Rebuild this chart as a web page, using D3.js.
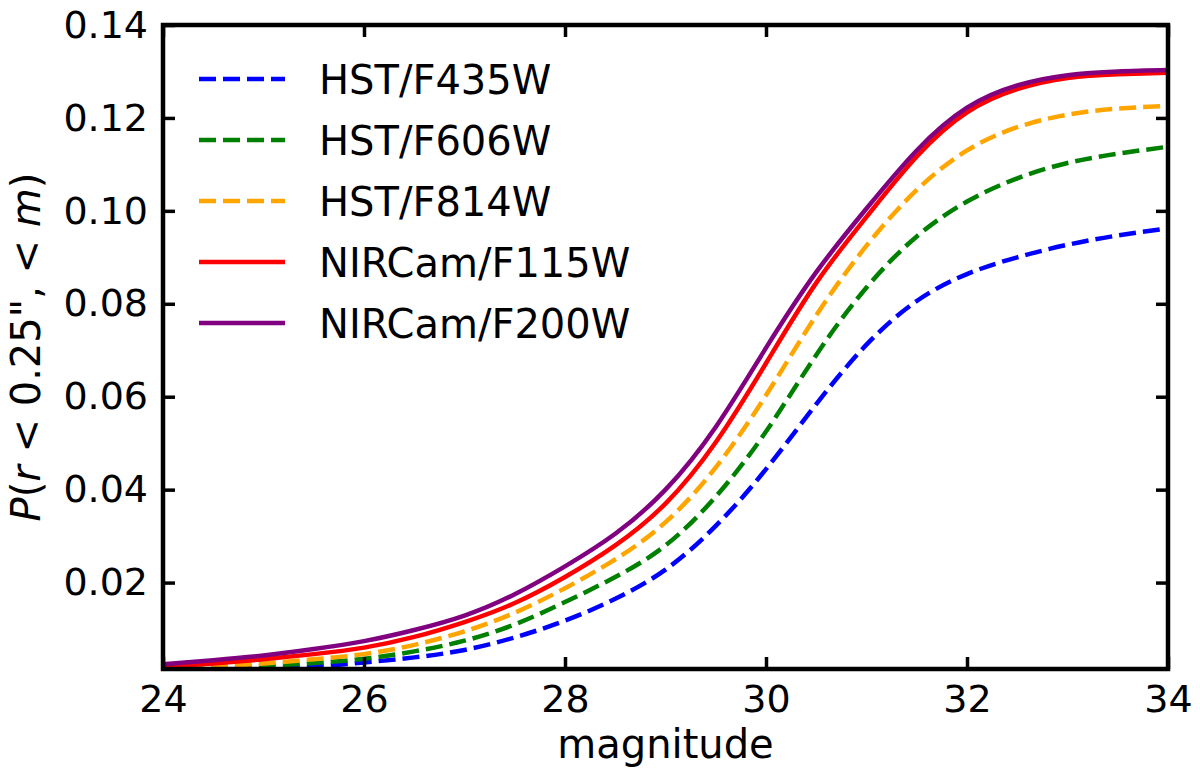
<!DOCTYPE html>
<html>
<head>
<meta charset="utf-8">
<script src="https://cdn.jsdelivr.net/npm/d3@7"></script>
<style>
  body { margin: 0; background: #fff; }
  svg { display: block; font-family: "DejaVu Sans", sans-serif; }
</style>
</head>
<body>
<svg id="chart" width="1200" height="777"></svg>
<script>
// magnitude grid
const magnitudes = [24, 24.5, 25, 25.5, 26, 26.5, 27, 27.5, 28, 28.5, 29, 29.5, 30, 30.5, 31, 31.5, 32, 32.5, 33, 33.5, 34];

const hstF435W = [0.0006, 0.0009, 0.0013, 0.0019, 0.0028, 0.0039, 0.0055, 0.0082, 0.0118, 0.0165, 0.0228, 0.0322, 0.0444, 0.0584, 0.0712, 0.0806, 0.0864, 0.0900, 0.0927, 0.0947, 0.0962];
const hstF606W = [0.0009, 0.0014, 0.0020, 0.0027, 0.0036, 0.0052, 0.0075, 0.0110, 0.0158, 0.0212, 0.0280, 0.0385, 0.0525, 0.0690, 0.0835, 0.0945, 0.1020, 0.1070, 0.1103, 0.1123, 0.1138];
const hstF814W = [0.0013, 0.0019, 0.0026, 0.0035, 0.0046, 0.0066, 0.0095, 0.0135, 0.0188, 0.0250, 0.0330, 0.0448, 0.0603, 0.0775, 0.0925, 0.1045, 0.1130, 0.1180, 0.1207, 0.1220, 0.1226];
const nircamF115W = [0.0019, 0.0026, 0.0035, 0.0046, 0.0060, 0.0083, 0.0115, 0.0156, 0.0212, 0.0280, 0.0370, 0.0502, 0.0672, 0.0845, 0.0987, 0.1117, 0.1212, 0.1262, 0.1286, 0.1294, 0.1297];
const nircamF200W = [0.0024, 0.0033, 0.0043, 0.0057, 0.0074, 0.0098, 0.0129, 0.0175, 0.0235, 0.0305, 0.0400, 0.0535, 0.0705, 0.0868, 0.1005, 0.1130, 0.1222, 0.1270, 0.1292, 0.1300, 0.1303];

const seriesNames = ["HST/F435W", "HST/F606W", "HST/F814W", "NIRCam/F115W", "NIRCam/F200W"];
const seriesValues = [hstF435W, hstF606W, hstF814W, nircamF115W, nircamF200W];
const seriesColors = ["blue", "green", "orange", "red", "purple"];
const seriesDashed = [true, true, true, false, false];

const xTicks = [24, 26, 28, 30, 32, 34];
const yTicks = [0.02, 0.04, 0.06, 0.08, 0.10, 0.12, 0.14];

const margin = {top: 25, right: 32, bottom: 108, left: 163};
const width = 1200, height = 777;
const boundedWidth = width - margin.left - margin.right;
const boundedHeight = height - margin.top - margin.bottom;

const svg = d3.select("#chart");
const g = svg.append("g")
    .attr("transform", `translate(${margin.left}, ${margin.top})`);

const xScale = d3.scaleLinear().domain([24, 34]).range([0, boundedWidth]);
const yScale = d3.scaleLinear().domain([0.0014, 0.14]).range([boundedHeight, 0]);

svg.append("defs").append("clipPath")
    .attr("id", "plot-clip")
    .append("rect")
    .attr("width", boundedWidth)
    .attr("height", boundedHeight);

const line = d3.line()
    .x(d => xScale(d.m))
    .y(d => yScale(d.v))
    .curve(d3.curveNatural);

// curves
const curves = g.append("g").attr("clip-path", "url(#plot-clip)");
seriesNames.forEach((name, i) => {
    const pts = magnitudes.map((m, j) => ({m: m, v: seriesValues[i][j]}));
    curves.append("path")
        .datum(pts)
        .attr("d", line)
        .attr("fill", "none")
        .attr("stroke", seriesColors[i])
        .attr("stroke-width", 4.5)
        .attr("stroke-dasharray", seriesDashed[i] ? "17,7" : null);
});

// axes, ticks inward on all four sides
const tickLen = 12;
function styleAxis(sel) {
    sel.select(".domain").remove();
    sel.selectAll(".tick line").attr("stroke", "black").attr("stroke-width", 3.5);
    sel.selectAll(".tick text")
        .attr("fill", "black")
        .style("font-family", "DejaVu Sans")
        .style("font-size", "38px");
}

g.append("g")
    .attr("transform", `translate(0, ${boundedHeight})`)
    .call(d3.axisBottom(xScale).tickValues(xTicks).tickSize(-tickLen).tickPadding(16).tickFormat(d3.format("d")))
    .call(styleAxis);

g.append("g")
    .call(d3.axisTop(xScale).tickValues(xTicks).tickSize(-tickLen).tickFormat(""))
    .call(styleAxis);

g.append("g")
    .call(d3.axisLeft(yScale).tickValues(yTicks).tickSize(-tickLen).tickPadding(15).tickFormat(d3.format(".2f")))
    .call(styleAxis);

g.append("g")
    .attr("transform", `translate(${boundedWidth}, 0)`)
    .call(d3.axisRight(yScale).tickValues(yTicks).tickSize(-tickLen).tickFormat(""))
    .call(styleAxis);

// frame
g.append("rect")
    .attr("width", boundedWidth)
    .attr("height", boundedHeight)
    .attr("fill", "none")
    .attr("stroke", "black")
    .attr("stroke-width", 4.5);

// axis labels
g.append("text")
    .attr("x", boundedWidth / 2)
    .attr("y", boundedHeight + 89)
    .attr("text-anchor", "middle")
    .style("font-size", "40px")
    .text("magnitude");

const yLabel = svg.append("text")
    .attr("transform", `translate(40, ${margin.top + boundedHeight / 2}) rotate(-90)`)
    .attr("text-anchor", "middle")
    .style("font-size", "40px");
yLabel.append("tspan").style("font-style", "italic").text("P");
yLabel.append("tspan").text("(");
yLabel.append("tspan").style("font-style", "italic").text("r");
yLabel.append("tspan").text(" < 0.25\", < ");
yLabel.append("tspan").style("font-style", "italic").text("m");
yLabel.append("tspan").text(")");

// legend
const legend = svg.append("g");
seriesNames.forEach((name, i) => {
    const ly = 79 + i * 61;
    legend.append("line")
        .attr("x1", 199).attr("x2", 285)
        .attr("y1", ly).attr("y2", ly)
        .attr("stroke", seriesColors[i])
        .attr("stroke-width", 4.5)
        .attr("stroke-dasharray", seriesDashed[i] ? "17,7" : null);
    legend.append("text")
        .attr("x", 319)
        .attr("y", ly + 15)
        .style("font-size", "40px")
        .text(name);
});
</script>
</body>
</html>
